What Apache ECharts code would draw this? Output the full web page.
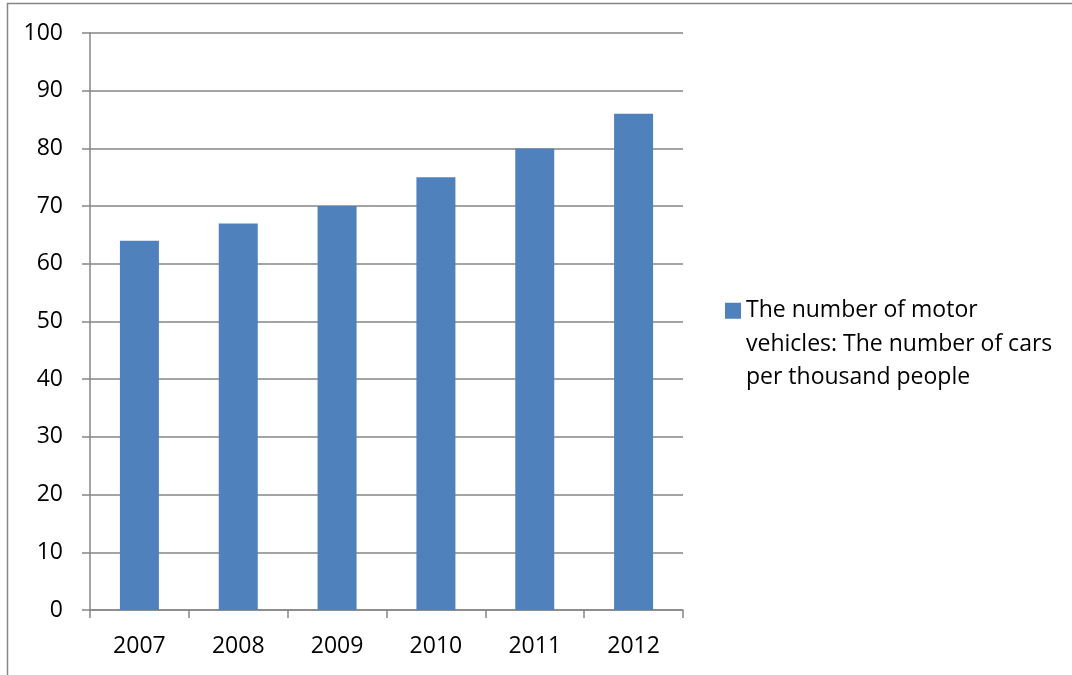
<!DOCTYPE html>
<html>
<head>
<meta charset="utf-8">
<script src="https://cdn.jsdelivr.net/npm/echarts@6/dist/echarts.min.js"></script>
<style>
  html, body { margin: 0; padding: 0; background: #fff; }
  #chart { width: 1072px; height: 675px; }
</style>
</head>
<body>
<div id="chart"></div>
<script>
// Motor vehicle ownership, cars per thousand people
const years = ['2007', '2008', '2009', '2010', '2011', '2012'];
const carsPerThousand = [64, 67, 70, 75, 80, 86];
const seriesName = 'The number of motor\nvehicles: The number of cars\nper thousand people';

const axisGray = '#868686';
const fontFamily = '"Open Sans", Lato, sans-serif';

const chart = echarts.init(document.getElementById('chart'));
chart.setOption({
  animation: false,
  textStyle: { fontFamily: fontFamily },
  graphic: [{
    type: 'rect',
    shape: { x: 7.5, y: 3.5, width: 1200, height: 800 },
    style: { fill: 'none', stroke: axisGray, lineWidth: 1.5 },
    silent: true
  }],
  grid: { left: 90, right: 389, top: 33, bottom: 65 },
  legend: {
    left: 725,
    top: 227,
    padding: 0,
    orient: 'vertical',
    itemWidth: 16,
    itemHeight: 16,
    icon: 'rect',
    // two leading blank lines keep the swatch beside the first line of the name
    formatter: function (name) { return '\n\n' + name; },
    textStyle: {
      fontSize: 23,
      color: '#000',
      lineHeight: 33.5
    },
    data: [seriesName]
  },
  xAxis: {
    type: 'category',
    data: years,
    axisLine: { lineStyle: { color: axisGray, width: 1.5 } },
    axisTick: { show: true, length: 8, alignWithLabel: false, lineStyle: { color: axisGray, width: 1.5 } },
    axisLabel: { color: '#000', fontSize: 23, margin: 25 }
  },
  yAxis: {
    type: 'value',
    min: 0,
    max: 100,
    interval: 10,
    axisLine: { show: true, lineStyle: { color: axisGray, width: 1.5 } },
    axisTick: { show: true, length: 8, lineStyle: { color: axisGray, width: 1.5 } },
    axisLabel: { color: '#000', fontSize: 23, margin: 27 },
    splitLine: { lineStyle: { color: axisGray, width: 1.5 } }
  },
  series: [{
    name: seriesName,
    type: 'bar',
    data: carsPerThousand,
    barWidth: 39,
    itemStyle: { color: '#4F81BD' }
  }]
});
</script>
</body>
</html>
